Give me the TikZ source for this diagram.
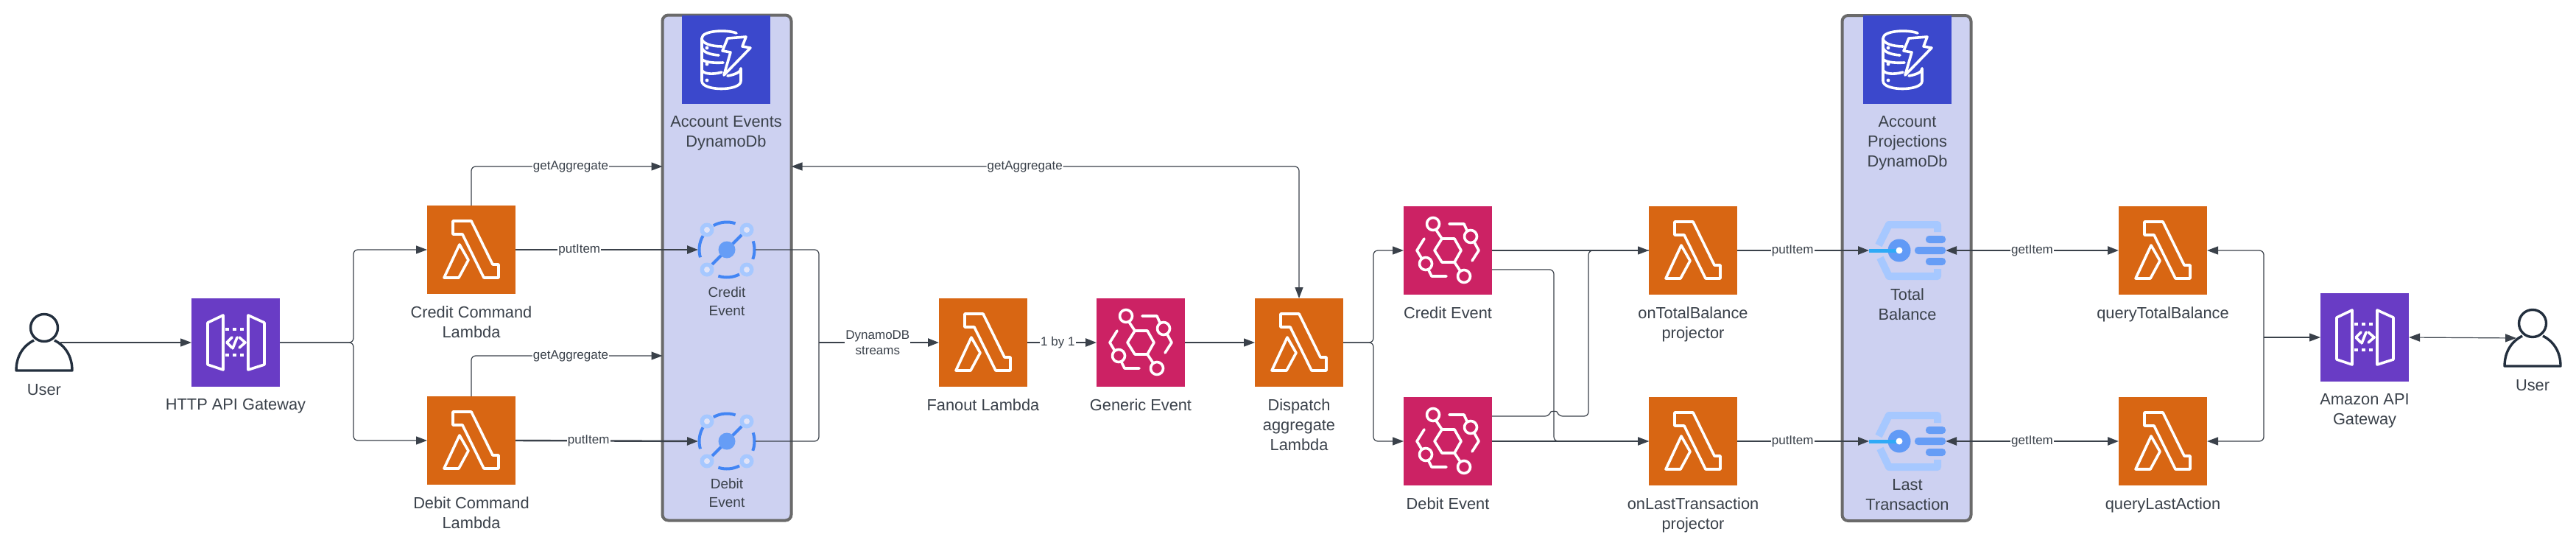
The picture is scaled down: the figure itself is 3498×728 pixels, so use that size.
\documentclass[tikz,border=0pt]{standalone}
\usepackage{fontspec}
\usepackage{tikz}
\usetikzlibrary{positioning,arrows.meta}
\setmainfont{Liberation Sans}
\definecolor{inkgray}{HTML}{3A414A}
\definecolor{usernavy}{HTML}{232F3E}
\definecolor{lambdaorange}{HTML}{D86613}
\definecolor{gatewaypurple}{HTML}{693CC5}
\definecolor{eventpink}{HTML}{CC2264}
\definecolor{dynamoblue}{HTML}{3B48CC}
\definecolor{dbfill}{HTML}{CDD1F1}
\definecolor{dbedge}{HTML}{6A6A6A}
\definecolor{ringblue}{HTML}{4285F4}
\definecolor{ringmid}{HTML}{669DF6}
\definecolor{ringlight}{HTML}{A6C8FF}
\tikzset{
  glyph/.style={draw=white, line width=3.6pt, line join=round, line cap=round, fill=none},
  lambdaglyph/.pic={
    \draw[glyph] (35,21) -- (60,21) -- (89,80) -- (97,80) -- (97,98) -- (77,98) -- (48,39) -- (35,39) -- cycle;
    \draw[glyph] (44,53) -- (56,74) -- (43,98) -- (23,98) -- cycle;
  },
  gatewayglyph/.pic={
    \draw[glyph] (22,33) -- (43,23) -- (43,97) -- (22,90) -- cycle;
    \draw[glyph] (77,23) -- (99,33) -- (99,90) -- (77,97) -- cycle;
    \draw[glyph, dash pattern=on 5pt off 5pt, line cap=butt] (46,42) -- (77,42);
    \draw[glyph, dash pattern=on 5pt off 5pt, line cap=butt] (46,77) -- (77,77);
    \draw[glyph] (55,53) -- (48,60) -- (55,67);
    \draw[glyph] (65,53) -- (73,60) -- (65,67);
    \draw[glyph] (62,53) -- (56,68);
  },
  eventglyph/.pic={
    \draw[glyph] (52,44) -- (69,44) -- (78,60) -- (69,76) -- (52,76) -- (42,60) -- cycle;
    \foreach \cx/\cy in {40/24,91/41,30/78,82/95}
      \draw[glyph] (\cx,\cy) circle (8.5pt);
    \draw[glyph] (44,32) -- (52,44);
    \draw[glyph] (69,76) -- (77,88);
    \draw[glyph] (62,24) -- (82,24) -- (86,33);
    \draw[glyph] (96,49) -- (102,60) -- (93,74);
    \draw[glyph] (28,44) -- (18,60) -- (24,70);
    \draw[glyph] (34,87) -- (38,95) -- (58,95);
  },
  dynamoglyph/.pic={
    \draw[glyph] (74,24) .. controls (62,19) and (27,20) .. (27,31) .. controls (27,38) and (40,42) .. (54,42);
    \draw[glyph] (27,31) -- (27,89) .. controls (27,103) and (80,103) .. (80,89) -- (80,72);
    \draw[glyph] (27,43) .. controls (28,50) and (38,53) .. (50,54);
    \draw[glyph] (27,59) .. controls (29,63) and (42,65) .. (56,64);
    \draw[glyph] (27,74) .. controls (29,79) and (40,81) .. (54,77);
    \draw[glyph] (80,72) .. controls (80,76) and (74,80) .. (62,82);
    \foreach \dy in {44,66,88}
      \fill[white] (34,\dy) circle (2.4pt);
    \draw[glyph, fill=dynamoblue] (62,31) -- (87,29) -- (82,42) -- (93,44) -- (57,81) -- (66,50) -- (55,48) -- cycle;
  },
  streamglyph/.pic={
    \foreach \a/\b in {72/119,150/196,252/297,-20/18}
      \draw[ringblue, line width=4pt] (\a:37.5pt) arc (\a:\b:37.5pt);
    \draw[ringblue, line width=4pt] (-20,20) -- (20,-20);
    \foreach \sx/\sy in {-27/-27,27/-27,-27/27,27/27} {
      \fill[ringlight] (\sx,\sy) circle (9.5pt);
      \fill[dbfill!60!white] (\sx,\sy) circle (4pt);
    }
    \fill[ringmid] (0,0) circle (11.5pt);
  },
  kinesisglyph/.pic={
    \draw[ringlight, line width=10pt, line join=round] (41,-25) -- (41,-35) -- (-25,-35) -- (-39,-7);
    \draw[ringlight, line width=10pt, line join=round] (41,25) -- (41,35) -- (-25,35) -- (-37,10);
    \fill[ringmid!85!ringblue] (-11,0) circle (15.5pt);
    \draw[ringblue!70!cyan, line width=5pt] (-52,0) -- (-11,0);
    \fill[white] (-11,0) circle (4.5pt);
    \foreach \py/\lx in {-15/25,0/10,15/25}
      \fill[ringmid, rounded corners=4.5pt] (\lx,\py-5) rectangle (52,\py+5);
  }
}
\begin{document}
\begin{tikzpicture}[   % default options
      x=1pt, y=-1pt,
      line width=1.2pt,
      draw=inkgray,
      >={Triangle[length=15pt,width=11pt]},
      rounded corners=0pt
    ]
    \tikzstyle{awsbox}=[minimum size=120pt, inner sep=0pt, outer sep=0pt, rectangle];
    \tikzstyle{dbcol}=[draw=dbedge, fill=dbfill, line width=4pt, rounded corners=8pt, inner sep=0pt, outer sep=0pt, minimum width=175pt, minimum height=686pt];
    \tikzstyle{lbl}=[font=\fontsize{21.8}{27}\selectfont, text=inkgray, align=center, inner sep=0pt];
    \tikzstyle{smalllbl}=[font=\fontsize{19}{25}\selectfont, text=inkgray, align=center, inner sep=0pt];
    \tikzstyle{edgelbl}=[font=\fontsize{17}{21}\selectfont, text=inkgray, align=center, fill=white, inner sep=1pt];
    \tikzstyle{wire}=[->, rounded corners=6pt];
    \tikzstyle{heavy}=[->, line width=2.4pt];
    \useasboundingbox (0,0) rectangle (3498,728);
    %
    % table columns
    \node [dbcol] (eventsdb) at (987,363.5) {};
    \node [dbcol] (projdb) at (2589,364) {};
    %
    % lambdas
    \foreach \name/\cx/\cy in {creditcmd/640/339, debitcmd/640/598, fanout/1335/465, dispatch/1764/465,
        ontotal/2299/340, onlast/2299/599, querytotal/2937/340, querylast/2937/599} {
      \node [awsbox, fill=lambdaorange] (\name) at (\cx,\cy) {};
      \pic at (\name.north west) {lambdaglyph};
    }
    % event buses
    \foreach \name/\cx/\cy in {genericevt/1549/465, creditevt/1966/340, debitevt/1966/599} {
      \node [awsbox, fill=eventpink] (\name) at (\cx,\cy) {};
      \pic at (\name.north west) {eventglyph};
    }
    % gateways
    \foreach \name/\cx/\cy in {httpgw/320/465, amazongw/3211/458} {
      \node [awsbox, fill=gatewaypurple] (\name) at (\cx,\cy) {};
      \pic at (\name.north west) {gatewayglyph};
    }
    % dynamodb icons
    \foreach \name/\cx in {eventsicon/986, projicon/2590} {
      \node [awsbox, fill=dynamoblue] (\name) at (\cx,81) {};
      \pic at (\name.north west) {dynamoglyph};
    }
    % streams and indexes
    \foreach \name/\cy in {creditstream/339, debitstream/599} {
      \node [circle, minimum size=78pt, inner sep=0pt, outer sep=0pt] (\name) at (987,\cy) {};
      \pic at (\name.center) {streamglyph};
    }
    \foreach \name/\cy in {totalidx/340, lastidx/599} {
      \node [minimum width=104pt, minimum height=80pt, inner sep=0pt, outer sep=0pt] (\name) at (2590,\cy) {};
      \pic at (\name.center) {kinesisglyph};
    }
    %
    % users
    \foreach \name/\cx/\cy in {userleft/60/445, userright/3439/439} {
      \node [circle, draw=usernavy, line width=3.4pt, minimum size=37pt, inner sep=0pt] (\name) at (\cx,\cy) {};
      \draw[usernavy, line width=3.4pt, line join=round] (\cx-14,\cy+17) .. controls (\cx-28,\cy+24) and (\cx-38,\cy+38) .. (\cx-38,\cy+58)
        -- (\cx+38,\cy+58) .. controls (\cx+38,\cy+38) and (\cx+28,\cy+24) .. (\cx+14,\cy+17);
    }
    %
    % labels
    \node [lbl, anchor=north] (userleftlbl) at (60,521) {User};
    \node [lbl, anchor=north] (userrightlbl) at (3439,515) {User};
    \foreach \boxname/\txt in {httpgw/HTTP API Gateway, creditcmd/Credit Command\\Lambda, debitcmd/Debit Command\\Lambda,
        fanout/Fanout Lambda, genericevt/Generic Event, dispatch/Dispatch\\aggregate\\Lambda,
        creditevt/Credit Event, debitevt/Debit Event, ontotal/onTotalBalance\\projector,
        onlast/onLastTransaction\\projector, querytotal/queryTotalBalance, querylast/queryLastAction,
        amazongw/Amazon API\\Gateway} {
      \node [lbl, below=16pt of \boxname] (\boxname lbl) {\txt};
    }
    \node [lbl, below=16pt of eventsicon] (eventsiconlbl) {Account Events\\DynamoDb};
    \node [lbl, below=16pt of projicon] (projiconlbl) {Account\\Projections\\DynamoDb};
    \node [smalllbl, below=11pt of creditstream] (creditstreamlbl) {Credit\\Event};
    \node [smalllbl, below=11pt of debitstream] (debitstreamlbl) {Debit\\Event};
    \node [lbl, below=11pt of totalidx.south] (totalidxlbl) {Total\\Balance};
    \node [lbl, below=11pt of lastidx.south] (lastidxlbl) {Last\\Transaction};
    %
    % user to http gateway
    \coordinate (userleftout) at (82,465);
    \draw[->] (userleftout) -- (httpgw.west);
    % http gateway to commands
    \coordinate (gwfork) at (480,465);
    \draw[wire] (httpgw.east) -- (gwfork) |- (creditcmd.west);
    \draw[wire] (httpgw.east) -- (gwfork) |- (debitcmd.west);
    % commands to events table
    \coordinate (getcredit) at (eventsdb.west |- 0,226);
    \coordinate (getdebit) at (eventsdb.west |- 0,483);
    \draw[wire] (creditcmd.north) |- (getcredit) node [edgelbl, pos=0.76] (getcreditlbl) {getAggregate};
    \draw[wire] (debitcmd.north) |- (getdebit) node [edgelbl, pos=0.76] (getdebitlbl) {getAggregate};
    \draw[heavy] (creditcmd.east) -- (creditstream.west) node [edgelbl, pos=0.35] (putcreditlbl) {putItem};
    \draw[heavy] (debitcmd.east) -- (debitstream.west) node [edgelbl, pos=0.40] (putdebitlbl) {putItem};
    % streams to fanout
    \coordinate (streamfork) at (1112,465);
    \draw[rounded corners=6pt] (creditstream.east) -| (streamfork);
    \draw[rounded corners=6pt] (debitstream.east) -| (streamfork);
    \draw[heavy] (streamfork) -- (fanout.west) node [edgelbl, pos=0.49] (streamslbl) {DynamoDB\\streams};
    \draw[heavy] (fanout.east) -- (genericevt.west) node [edgelbl, pos=0.44] (onebyonelbl) {1 by 1};
    \draw[->] (genericevt.east) -- (dispatch.west);
    % dispatch and events table
    \coordinate (getdispatch) at (eventsdb.east |- 0,226);
    \draw[<->, rounded corners=6pt] (getdispatch) -| (dispatch.north) node [edgelbl, pos=0.23] (getdispatchlbl) {getAggregate};
    % dispatch to event buses
    \coordinate (dispatchfork) at (1865,465);
    \draw[wire] (dispatch.east) -- (dispatchfork) |- (creditevt.west);
    \draw[wire] (dispatch.east) -- (dispatchfork) |- (debitevt.west);
    % event buses to projectors
    \coordinate (crosswires) at (2110,565);
    \coordinate (upperturn) at (2157,340);
    \draw[->] (creditevt.east) -- (ontotal.west);
    \draw[->] (debitevt.east) -- (onlast.west);
    \draw[wire] ([yshift=-26pt]creditevt.east) -| (crosswires) |- (onlast.west);
    \draw[rounded corners=6pt] ([yshift=34pt]debitevt.east) -- ([xshift=-6pt]crosswires)
      .. controls ([xshift=-4pt,yshift=7pt]crosswires) and ([xshift=4pt,yshift=7pt]crosswires) .. ([xshift=6pt]crosswires)
      -| (upperturn) -- (ontotal.west);
    % projectors to indexes, indexes to queries
    \draw[heavy] (ontotal.east) -- (totalidx.west) node [edgelbl, pos=0.42] (puttotallbl) {putItem};
    \draw[heavy] (onlast.east) -- (lastidx.west) node [edgelbl, pos=0.42] (putlastlbl) {putItem};
    \draw[<->, line width=2.4pt] (totalidx.east) -- (querytotal.west) node [edgelbl, pos=0.5] (gettotallbl) {getItem};
    \draw[<->, line width=2.4pt] (lastidx.east) -- (querylast.west) node [edgelbl, pos=0.5] (getlastlbl) {getItem};
    % queries to amazon gateway
    \coordinate (queryfork) at (3074,458);
    \draw[wire] (queryfork) |- (querytotal.east);
    \draw[wire] (queryfork) |- (querylast.east);
    \draw[->] (queryfork) -- (amazongw.west);
    % amazon gateway and user
    \coordinate (userrightin) at (3417,459);
    \draw[<->] (amazongw.east) -- (userrightin);
\end{tikzpicture}
\end{document}
